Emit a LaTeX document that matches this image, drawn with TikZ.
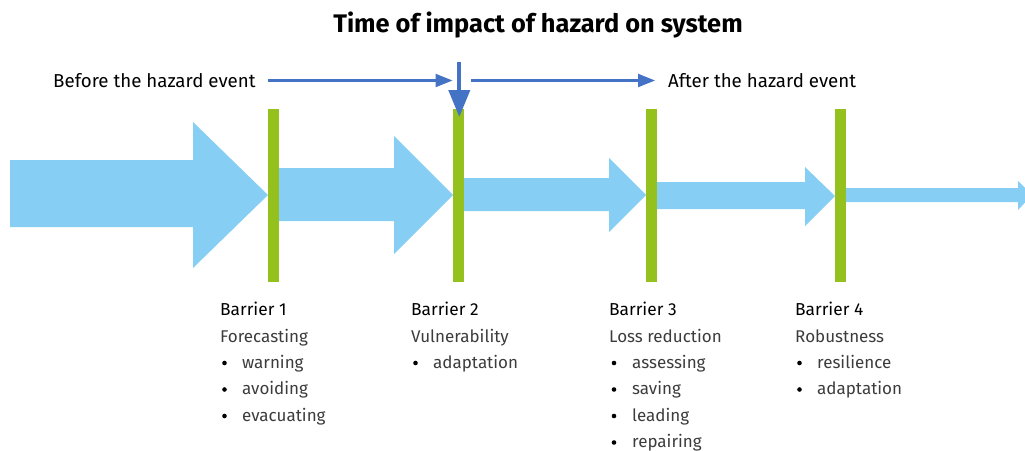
\documentclass[tikz,border=0pt]{standalone}
\usepackage{fontspec}
\setmainfont{Fira Sans}
\usetikzlibrary{arrows.meta}
\definecolor{arrowblue}{RGB}{134,206,244}
\definecolor{bargreen}{RGB}{149,193,31}
\definecolor{lineblue}{RGB}{68,114,196}
\definecolor{itemgray}{RGB}{60,60,60}
\tikzset{
  bigarrow/.style={fill=arrowblue, draw=none},
  barrier/.style={fill=bargreen, draw=none},
  timeline/.style={draw=lineblue, line width=2.2pt, -{Triangle[length=17pt,width=13pt]}},
  impact/.style={draw=lineblue, line width=4pt, -{Triangle[length=27pt,width=21pt]}},
  lbl/.style={font=\fontsize{18.7}{22}\selectfont, anchor=base west, inner sep=0pt},
  ttl/.style={font=\fontsize{17.3}{20}\selectfont, anchor=base west, inner sep=0pt},
  sub/.style={font=\fontsize{17}{20}\selectfont\color{itemgray}, anchor=base west, inner sep=0pt},
  bullet/.style={circle, fill=black, inner sep=0pt, minimum size=4.6pt},
}
\begin{document}
\begin{tikzpicture}[x=1pt,y=-1pt]
\useasboundingbox (0,0) rectangle (1025,450);
% title
\node[font=\fontsize{25.4}{30}\bfseries, anchor=base, inner sep=0pt] (title) at (538,32) {Time of impact of hazard on system};
% flow arrows
\path[bigarrow] (10,160) -- (193,160) -- (193,122) -- (268,195) -- (193,268) -- (193,227) -- (10,227) -- cycle;
\path[bigarrow] (279,168) -- (394,168) -- (394,136) -- (453,195) -- (394,254) -- (394,221) -- (279,221) -- cycle;
\path[bigarrow] (464,178) -- (609,178) -- (609,158) -- (646,195) -- (609,232) -- (609,211) -- (464,211) -- cycle;
\path[bigarrow] (657,182) -- (805,182) -- (805,167) -- (835,196) -- (805,226) -- (805,209) -- (657,209) -- cycle;
\path[bigarrow] (846,188) -- (1018,188) -- (1018,181) -- (1032,195) -- (1018,210) -- (1018,202) -- (846,202) -- cycle;
% barriers
\path[barrier] (268,109) rectangle (279,282);
\path[barrier] (453,109) rectangle (464,282);
\path[barrier] (646,109) rectangle (657,282);
\path[barrier] (835,109) rectangle (846,282);
% timeline
\node[lbl] (before) at (53,87) {Before the hazard event};
\node[lbl] (after) at (668,87) {After the hazard event};
\coordinate (b0) at (268,80.5);
\coordinate (b1) at (452.5,80.5);
\coordinate (a0) at (471,80.5);
\coordinate (a1) at (655,80.5);
\draw[timeline] (b0) -- (b1);
\draw[timeline] (a0) -- (a1);
\coordinate (i0) at (459.3,62);
\coordinate (i1) at (459.3,117);
\draw[impact] (i0) -- (i1);
% barrier 1
\node[ttl] (t1) at (220,315) {Barrier 1};
\node[sub] (s1) at (220,342) {Forecasting};
\node[bullet] (d11) at (224.5,363) {}; \node[sub] (e11) at (242,368) {warning};
\node[bullet] (d12) at (224.5,389.5) {}; \node[sub] (e12) at (242,394.5) {avoiding};
\node[bullet] (d13) at (224.5,416) {}; \node[sub] (e13) at (242,421) {evacuating};
% barrier 2
\node[ttl] (t2) at (411,315) {Barrier 2};
\node[sub] (s2) at (411,342) {Vulnerability};
\node[bullet] (d21) at (415.5,363) {}; \node[sub] (e21) at (433,368) {adaptation};
% barrier 3
\node[ttl] (t3) at (609,315) {Barrier 3};
\node[sub] (s3) at (609,342) {Loss reduction};
\node[bullet] (d31) at (614,363) {}; \node[sub] (e31) at (632,368) {assessing};
\node[bullet] (d32) at (614,389.5) {}; \node[sub] (e32) at (632,394.5) {saving};
\node[bullet] (d33) at (614,416) {}; \node[sub] (e33) at (632,421) {leading};
\node[bullet] (d34) at (614,442.5) {}; \node[sub] (e34) at (632,447.5) {repairing};
% barrier 4
\node[ttl] (t4) at (795,315) {Barrier 4};
\node[sub] (s4) at (795,342) {Robustness};
\node[bullet] (d41) at (799.5,363) {}; \node[sub] (e41) at (817,368) {resilience};
\node[bullet] (d42) at (799.5,389.5) {}; \node[sub] (e42) at (817,394.5) {adaptation};
\end{tikzpicture}
\end{document}
